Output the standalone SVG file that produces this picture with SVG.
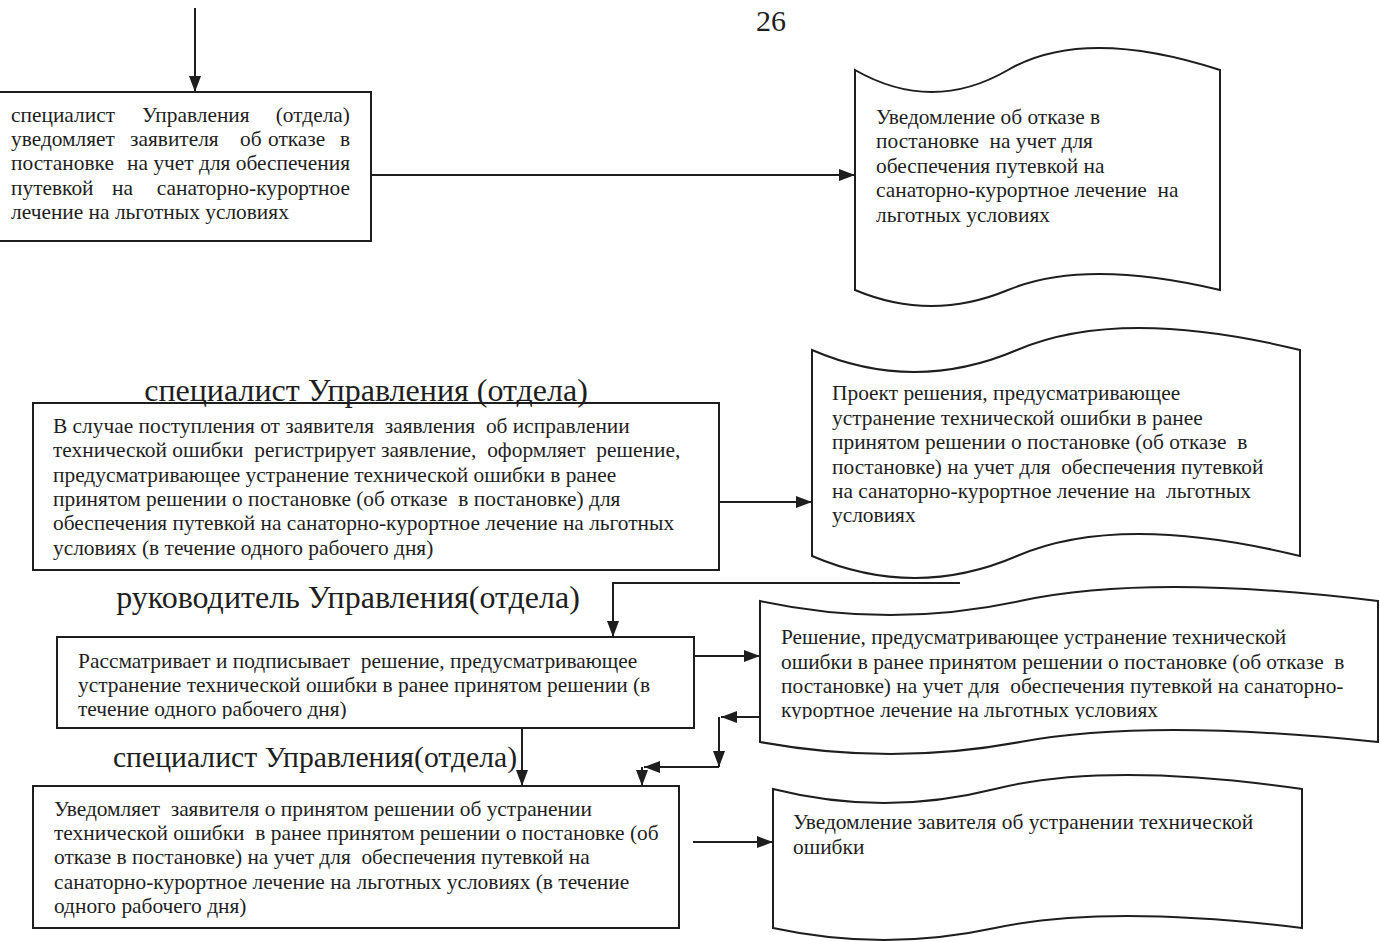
<svg xmlns="http://www.w3.org/2000/svg" width="1380" height="942" viewBox="0 0 1380 942">
<style>
.t{font-family:"Liberation Serif","Times New Roman",serif;font-size:21.4px;fill:#1e1e1e;white-space:pre}
.h{font-family:"Liberation Serif","Times New Roman",serif;font-size:32px;fill:#1e1e1e}
.h3{font-family:"Liberation Serif","Times New Roman",serif;font-size:29.7px;fill:#1e1e1e}
.pg{font-family:"Liberation Serif","Times New Roman",serif;font-size:30px;fill:#1e1e1e}
.b{fill:#fff;stroke:#1e1e1e;stroke-width:2}
.c{fill:none;stroke:#1e1e1e;stroke-width:2}
</style>
<defs>
<marker id="a" markerUnits="userSpaceOnUse" markerWidth="16" markerHeight="12" refX="16" refY="6" orient="auto">
<path d="M0,0 L16,6 L0,12 z" fill="#1e1e1e"/>
</marker>
<clipPath id="cl3"><rect x="0" y="0" width="1380" height="719"/></clipPath>
<clipPath id="clb3"><rect x="0" y="0" width="1380" height="719"/></clipPath>
</defs>
<rect width="1380" height="942" fill="#fff"/>
<text class="pg" x="771" y="31" text-anchor="middle">26</text>

<g id="box1">
<rect class="b" x="-2" y="92" width="373" height="149"/>
<text class="t" y="122"><tspan x="11">специалист</tspan><tspan x="142">Управления</tspan><tspan x="350" text-anchor="end">(отдела)</tspan></text>
<text class="t" y="146"><tspan x="11">уведомляет</tspan><tspan x="130">заявителя</tspan><tspan x="240">об</tspan><tspan x="268">отказе</tspan><tspan x="350" text-anchor="end">в</tspan></text>
<text class="t" y="170"><tspan x="11">постановке</tspan><tspan x="350" text-anchor="end">на учет для обеспечения</tspan></text>
<text class="t" y="195"><tspan x="11">путевкой</tspan><tspan x="112">на</tspan><tspan x="350" text-anchor="end">санаторно-курортное</tspan></text>
<text class="t" x="11" y="219">лечение на льготных условиях</text>
</g>

<g id="doc1">
<path class="b" d="M855,70 Q932,114 1008,70 T1220,70 L1220,290 Q1085,258 1008,290 T855,290 Z"/>
<text class="t" x="876" y="124">Уведомление об отказе в</text>
<text class="t" x="876" y="148">постановке  на учет для</text>
<text class="t" x="876" y="173">обеспечения путевкой на</text>
<text class="t" x="876" y="197">санаторно-курортное лечение  на</text>
<text class="t" x="876" y="222">льготных условиях</text>
</g>

<g id="label1"><text class="h" x="366" y="401" text-anchor="middle">специалист Управления (отдела)</text></g>

<g id="box2">
<rect class="b" x="33" y="403" width="686" height="167" fill-opacity="0"/>
<text class="t" x="53" y="433">В случае поступления от заявителя  заявления  об исправлении</text>
<text class="t" x="53" y="457">технической ошибки  регистрирует заявление,  оформляет  решение,</text>
<text class="t" x="53" y="482">предусматривающее устранение технической ошибки в ранее</text>
<text class="t" x="53" y="506">принятом решении о постановке (об отказе  в постановке) для</text>
<text class="t" x="53" y="530">обеспечения путевкой на санаторно-курортное лечение на льготных</text>
<text class="t" x="53" y="555">условиях (в течение одного рабочего дня)</text>
</g>

<g id="doc2">
<path class="b" d="M812,350 Q914,394 1017,350 T1300,350 L1300,556 Q1119,512 1017,556 T812,556 Z"/>
<text class="t" x="832" y="400">Проект решения, предусматривающее</text>
<text class="t" x="832" y="425">устранение технической ошибки в ранее</text>
<text class="t" x="832" y="449">принятом решении о постановке (об отказе  в</text>
<text class="t" x="832" y="474">постановке) на учет для  обеспечения путевкой</text>
<text class="t" x="832" y="498">на санаторно-курортное лечение на  льготных</text>
<text class="t" x="832" y="522">условиях</text>
</g>

<g id="label2"><text class="h" x="348" y="608" text-anchor="middle">руководитель Управления(отдела)</text></g>

<g id="box3">
<rect class="b" x="57" y="637" width="637" height="91"/>
<g clip-path="url(#clb3)">
<text class="t" x="78" y="668">Рассматривает и подписывает  решение, предусматривающее</text>
<text class="t" x="78" y="692">устранение технической ошибки в ранее принятом решении (в</text>
<text class="t" x="78" y="716">течение одного рабочего дня)</text>
</g>
</g>

<g id="doc3">
<path class="b" d="M760,601 Q890,629 1020,601 T1378,601 L1378,742 Q1149,718 1020,742 T760,742 Z"/>
<g clip-path="url(#cl3)">
<text class="t" x="781" y="644">Решение, предусматривающее устранение технической</text>
<text class="t" x="781" y="669">ошибки в ранее принятом решении о постановке (об отказе  в</text>
<text class="t" x="781" y="693">постановке) на учет для  обеспечения путевкой на санаторно-</text>
<text class="t" x="781" y="717">курортное лечение на льготных условиях</text>
</g>
</g>

<g id="label3"><text class="h3" x="315" y="767" text-anchor="middle">специалист Управления(отдела)</text></g>

<g id="box4">
<rect class="b" x="33" y="786" width="646" height="142"/>
<text class="t" x="54" y="816">Уведомляет  заявителя о принятом решении об устранении</text>
<text class="t" x="54" y="840">технической ошибки  в ранее принятом решении о постановке (об</text>
<text class="t" x="54" y="864">отказе в постановке) на учет для  обеспечения путевкой на</text>
<text class="t" x="54" y="889">санаторно-курортное лечение на льготных условиях (в течение</text>
<text class="t" x="54" y="913">одного рабочего дня)</text>
</g>

<g id="doc4">
<path class="b" d="M773,789 Q884,817 995,789 T1302,789 L1302,928 Q1106,904 995,928 T773,928 Z"/>
<text class="t" x="793" y="829">Уведомление завителя об устранении технической</text>
<text class="t" x="793" y="854">ошибки</text>
</g>

<g id="connectors">
<path class="c" d="M195,8 L195,92" marker-end="url(#a)"/>
<path class="c" d="M371,175 L855,175" marker-end="url(#a)"/>
<path class="c" d="M719,502 L812,502" marker-end="url(#a)"/>
<path class="c" d="M960,583 L613,583 L613,637" marker-end="url(#a)"/>
<path class="c" d="M694,656 L760,656" marker-end="url(#a)"/>
<path class="c" d="M760,717 L721,717" marker-end="url(#a)"/>
<path class="c" d="M719,717 L719,767" marker-end="url(#a)"/>
<path class="c" d="M719,767 L644,767" marker-end="url(#a)"/>
<path class="c" d="M642,767 L642,786" marker-end="url(#a)"/>
<path class="c" d="M522,728 L522,786" marker-end="url(#a)"/>
<path class="c" d="M693,842 L773,842" marker-end="url(#a)"/>
</g>
</svg>
